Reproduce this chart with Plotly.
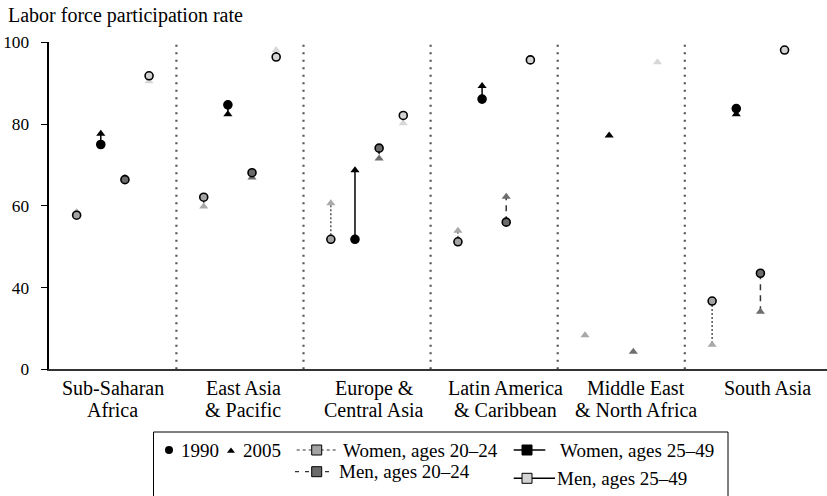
import plotly.graph_objects as go

# Regions (each label line is drawn separately below the axis)
regions = ["Sub-Saharan<br>Africa", "East Asia<br>& Pacific", "Europe &<br>Central Asia",
           "Latin America<br>& Caribbean", "Middle East<br>& North Africa", "South Asia"]

# Labor force participation rate, 1990 and 2005
women_20_24_1990 = [57.7, 62.1, 51.8, 51.2, None, 36.7]
women_20_24_2005 = [58.4, 59.8, 60.6, 53.9, 28.3, 26.0]
women_25_49_1990 = [75.0, 84.7, 51.8, 86.1, None, 83.8]
women_25_49_2005 = [77.6, 82.4, 68.7, 89.3, 77.2, 82.4]
men_20_24_1990 = [66.4, 68.1, 74.1, 56.0, None, 43.5]
men_20_24_2005 = [66.8, 66.9, 71.6, 62.2, 24.3, 34.1]
men_25_49_1990 = [91.8, 96.4, 82.1, 95.7, None, 98.1]
men_25_49_2005 = [90.5, 98.1, 80.2, 95.3, 95.1, 97.8]

y_tick_vals = [20, 40, 60, 80, 100]
y_tick_text = ["0", "40", "60", "80", "100"]

FONT = "Liberation Serif"
W, H = 827, 496

series = [
    # name, 1990, 2005, offset, circle fill, triangle fill, line color, dash
    ("Women, ages 20–24", women_20_24_1990, women_20_24_2005, -0.285, "#a3a3a3", "#a9a9a9", "#555555", "2px,2px"),
    ("Women, ages 25–49", women_25_49_1990, women_25_49_2005, -0.095, "#000000", "#000000", "#000000", "solid"),
    ("Men, ages 20–24", men_20_24_1990, men_20_24_2005, 0.095, "#6b6b6b", "#6e6e6e", "#333333", "6px,5px"),
    ("Men, ages 25–49", men_25_49_1990, men_25_49_2005, 0.285, "#d3d3d3", "#d8d8d8", "#000000", "solid"),
]

fig = go.Figure()

# Connecting lines from 1990 to 2005
for name, v90, v05, off, cfill, tfill, lcol, dash in series:
    xs, ys = [], []
    for i, (a, b) in enumerate(zip(v90, v05)):
        if a is not None and b is not None:
            xs += [i + off, i + off, None]
            ys += [a, b, None]
    fig.add_trace(go.Scatter(x=xs, y=ys, mode="lines", showlegend=False, hoverinfo="skip",
                             line=dict(color=lcol, width=1.5, dash=dash)))

# 2005 triangles
for name, v90, v05, off, cfill, tfill, lcol, dash in series:
    xs = [i + off for i, v in enumerate(v05) if v is not None]
    ys = [v for v in v05 if v is not None]
    fig.add_trace(go.Scatter(x=xs, y=ys, mode="markers", showlegend=False, name=name + " 2005",
                             marker=dict(symbol="triangle-up", size=8, color=tfill,
                                         line=dict(width=0))))

# 1990 circles
for name, v90, v05, off, cfill, tfill, lcol, dash in series:
    xs = [i + off for i, v in enumerate(v90) if v is not None]
    ys = [v for v in v90 if v is not None]
    fig.add_trace(go.Scatter(x=xs, y=ys, mode="markers", showlegend=False, name=name + " 1990",
                             marker=dict(symbol="circle", size=8, color=cfill,
                                         line=dict(width=1.6, color="#000000"))))

# Plot area in pixels
left_px, right_px, top_px, bottom_px = 49.3, 827.0, 42.3, 369.3
group_px = 127.1
x_end = (right_px - left_px) / group_px - 0.5

# Dotted dividers between regions
for k in range(len(regions) - 1):
    fig.add_shape(type="line", xref="x", yref="y", x0=k + 0.5, x1=k + 0.5, y0=20, y1=100,
                  line=dict(color="#555555", width=2.2, dash="2px,5.5px"), layer="below")

# Pixel-space overlay traces for the legend box contents
lg = dict(xaxis="x2", yaxis="y2", showlegend=False, hoverinfo="skip")
r1, r2a, r2b = 450, 471.7, 478.3
fig.add_trace(go.Scatter(x=[169], y=[r1], mode="markers",
                         marker=dict(symbol="circle", size=8, color="black"), **lg))
fig.add_trace(go.Scatter(x=[231], y=[r1 + 1], mode="markers",
                         marker=dict(symbol="triangle-up", size=7, color="black"), **lg))
fig.add_trace(go.Scatter(x=[296.7, 336.7], y=[r1, r1], mode="lines",
                         line=dict(color="#333333", width=1, dash="dot"), **lg))
fig.add_trace(go.Scatter(x=[295, 333], y=[r2a, r2a], mode="lines",
                         line=dict(color="#333333", width=1.2, dash="4px,6px"), **lg))
fig.add_trace(go.Scatter(x=[513.7, 545.3], y=[r1, r1], mode="lines",
                         line=dict(color="black", width=1.5), **lg))
fig.add_trace(go.Scatter(x=[513.7, 555], y=[r2b, r2b], mode="lines",
                         line=dict(color="black", width=1.5), **lg))
for sx, sy, fill in [(316.7, r1, "#a3a3a3"), (316.7, r2a, "#6b6b6b"),
                     (527, r1, "#000000"), (527, r2b, "#d3d3d3")]:
    fig.add_trace(go.Scatter(x=[sx], y=[sy], mode="markers",
                             marker=dict(symbol="square", size=10, color=fill,
                                         line=dict(width=1, color="black")), **lg))

legend_texts = [(180, r1, "1990"), (241.7, r1, "2005"), (341.7, r1, "Women, ages 20–24"),
                (558.7, r1, "Women, ages 25–49"), (338.3, r2a, "Men, ages 20–24"),
                (556.3, r2b, "Men, ages 25–49")]
annotations = []
for tx, ty, t in legend_texts:
    annotations.append(dict(x=tx, y=ty, xref="x2", yref="y2", text=t, showarrow=False,
                            xanchor="left", yanchor="middle", borderpad=0,
                            font=dict(family=FONT, size=19, color="black")))

# Region labels under the axis
label_start, label_step = 112.5, 130.9
for i, lab in enumerate(regions):
    for j, line in enumerate(lab.split("<br>")):
        annotations.append(dict(x=label_start + i * label_step, y=388 + 22 * j, xref="x2", yref="y2",
                                text=line, showarrow=False, xanchor="center", yanchor="middle",
                                borderpad=0, font=dict(family=FONT, size=20, color="black")))

# Axis title
annotations.append(dict(x=7, y=15, xref="x2", yref="y2", text="Labor force participation rate",
                        showarrow=False, xanchor="left", yanchor="middle", borderpad=0,
                        font=dict(family=FONT, size=20, color="black")))

fig.add_shape(type="rect", xref="x2", yref="y2", x0=153.5, x1=728, y0=432, y1=500,
              line=dict(color="black", width=1), fillcolor="rgba(0,0,0,0)")

fig.update_layout(
    width=W, height=H, autosize=False,
    margin=dict(l=0, r=0, t=0, b=0, pad=0, autoexpand=False),
    paper_bgcolor="white", plot_bgcolor="rgba(0,0,0,0)",
    font=dict(family=FONT, color="black"),
    showlegend=False,
    annotations=annotations,
    xaxis=dict(domain=[left_px / W, right_px / W], range=[-0.5, x_end],
               showgrid=False, zeroline=False, showticklabels=False, ticks="",
               showline=True, linecolor="#333333", linewidth=1.5, fixedrange=True,
               anchor="y", automargin=False),
    yaxis=dict(domain=[1 - bottom_px / H, 1 - top_px / H], range=[20, 100],
               tickvals=y_tick_vals, ticktext=y_tick_text,
               showgrid=False, zeroline=False, ticks="outside", ticklen=7, tickwidth=1.2,
               tickcolor="black", showline=True, linecolor="black", linewidth=1.5,
               tickfont=dict(family=FONT, size=17.3, color="black"),
               ticklabelstandoff=8, fixedrange=True, anchor="x", automargin=False),
    xaxis2=dict(domain=[0, 1], range=[0, W], visible=False, fixedrange=True, anchor="y2",
                automargin=False),
    yaxis2=dict(domain=[0, 1], range=[H, 0], visible=False, fixedrange=True, anchor="x2",
                automargin=False),
)

fig.write_html("out.html", config={"displayModeBar": False})
